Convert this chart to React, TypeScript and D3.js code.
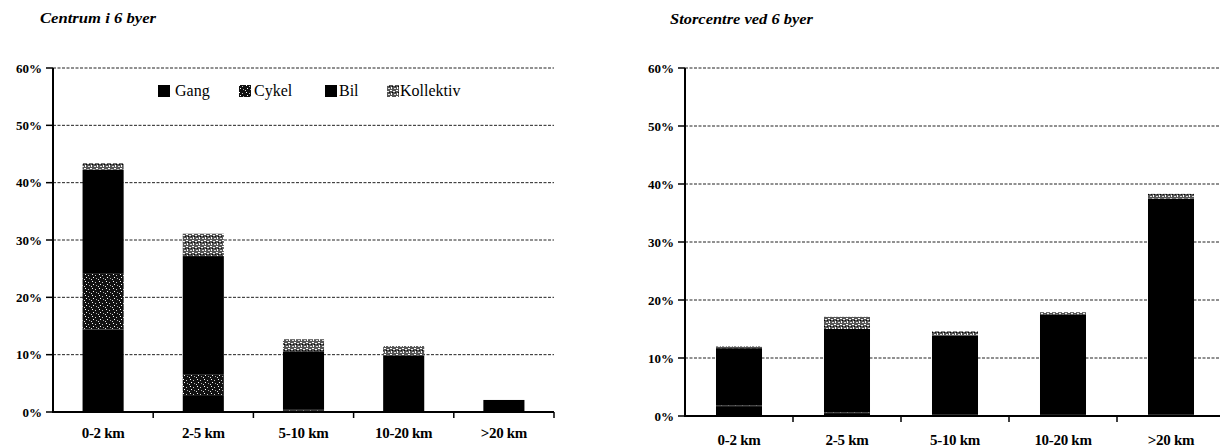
import React from "react";
import * as d3 from "d3";

const categories = ["0-2 km", "2-5 km", "5-10 km", "10-20 km", ">20 km"];
const seriesNames = ["Gang", "Cykel", "Bil", "Kollektiv"];
const yTicks = [0, 10, 20, 30, 40, 50, 60];

// Centrum i 6 byer (percent)
const centrumGang = [14.4, 2.8, 0.3, 0, 0];
const centrumCykel = [9.7, 3.8, 0.2, 0, 0];
const centrumBil = [18.2, 20.6, 10.1, 9.9, 2.1];
const centrumKollektiv = [1.1, 3.9, 2.1, 1.6, 0];

// Storcentre ved 6 byer (percent)
const storGang = [1.7, 0.5, 0.3, 0.2, 0.3];
const storCykel = [0.1, 0.1, 0, 0, 0];
const storBil = [9.9, 14.4, 13.6, 17.3, 37.2];
const storKollektiv = [0.3, 2.1, 0.7, 0.4, 0.8];

const fills: Record<string, string> = {
  Gang: "#000",
  Cykel: "url(#patCykel)",
  Bil: "#000",
  Kollektiv: "url(#patKollektiv)",
};

const FONT = "Liberation Serif, Times New Roman, Times, serif";

type PanelProps = {
  title: string;
  titleX: number;
  titleY: number;
  titleLen: number;
  gang: number[];
  cykel: number[];
  bil: number[];
  kollektiv: number[];
  x0: number;
  x1: number;
  yBottom: number;
  yTop: number;
  padding: number;
  labelY: number;
  legend?: boolean;
};

function Panel(p: PanelProps) {
  const rows = categories.map((c, i) => ({
    cat: c,
    Gang: p.gang[i],
    Cykel: p.cykel[i],
    Bil: p.bil[i],
    Kollektiv: p.kollektiv[i],
  }));
  const stacked = d3.stack<any>().keys(seriesNames)(rows);
  const x = d3
    .scaleBand<string>()
    .domain(categories)
    .range([p.x0, p.x1])
    .paddingInner(p.padding)
    .paddingOuter(p.padding / 2);
  const y = d3.scaleLinear().domain([0, 60]).range([p.yBottom, p.yTop]);
  const step = x.step();
  const legendItems = [
    { name: "Gang", sx: 158, tx: 175 },
    { name: "Cykel", sx: 239, tx: 254 },
    { name: "Bil", sx: 325, tx: 339 },
    { name: "Kollektiv", sx: 387, tx: 400 },
  ];
  return (
    <g>
      <text
        x={p.titleX}
        y={p.titleY}
        style={{ fontFamily: FONT }}
        fontStyle="italic"
        fontWeight="bold"
        fontSize={14}
        textLength={p.titleLen}
        lengthAdjust="spacingAndGlyphs"
      >
        {p.title}
      </text>
      {yTicks.map((t) => (
        <g key={t}>
          {t > 0 && (
            <line
              x1={p.x0}
              x2={p.x1}
              y1={y(t)}
              y2={y(t)}
              stroke="#222"
              strokeWidth={1}
              strokeDasharray="3 1.5"
            />
          )}
          <line x1={p.x0 - 7} x2={p.x0} y1={y(t)} y2={y(t)} stroke="#000" strokeWidth={1.5} />
          <text
            x={p.x0 - 11}
            y={y(t) + 4.5}
            textAnchor="end"
            style={{ fontFamily: FONT }}
            fontWeight="bold"
            fontSize={13}
          >
            {t}%
          </text>
        </g>
      ))}
      {stacked.map((s) => (
        <g key={s.key}>
          {s.map((d, i) => {
            const h = y(d[0]) - y(d[1]);
            if (h <= 0) return null;
            return (
              <rect
                key={i}
                x={x(categories[i])}
                width={x.bandwidth()}
                y={y(d[1])}
                height={h}
                fill={fills[s.key]}
              />
            );
          })}
        </g>
      ))}
      <line x1={p.x0} x2={p.x0} y1={y(60)} y2={y(0) + 1} stroke="#000" strokeWidth={2} />
      <line x1={p.x0} x2={p.x1} y1={y(0)} y2={y(0)} stroke="#000" strokeWidth={2} />
      {categories.map((c, i) => (
        <line
          key={c}
          x1={p.x0 + step * (i + 1)}
          x2={p.x0 + step * (i + 1)}
          y1={y(0)}
          y2={y(0) + 6}
          stroke="#000"
          strokeWidth={1.5}
        />
      ))}
      {categories.map((c) => (
        <text
          key={c}
          x={(x(c) as number) + x.bandwidth() / 2}
          y={p.labelY}
          textAnchor="middle"
          style={{ fontFamily: FONT }}
          fontWeight="bold"
          fontSize={15}
          letterSpacing={-0.3}
        >
          {c}
        </text>
      ))}
      {p.legend &&
        legendItems.map((l) => (
          <g key={l.name}>
            <rect x={l.sx} y={85} width={12} height={12} fill={fills[l.name]} />
            <text x={l.tx} y={96} style={{ fontFamily: FONT }} fontSize={16}>
              {l.name}
            </text>
          </g>
        ))}
    </g>
  );
}

export default function App() {
  return (
    <svg
      width={1220}
      height={448}
      style={{ position: "absolute", left: 0, top: 0, background: "#fff" }}
    >
      <defs>
        <pattern id="patCykel" width="7" height="7" patternUnits="userSpaceOnUse">
          <rect width="7" height="7" fill="#111" />
          <rect x="1" y="1" width="1" height="1" fill="#fff" />
          <rect x="4" y="2" width="1" height="1" fill="#ccc" />
          <rect x="2" y="4" width="1" height="1" fill="#fff" />
          <rect x="5" y="5" width="1" height="1" fill="#aaa" />
          <rect x="0" y="6" width="1" height="1" fill="#ddd" />
        </pattern>
        <pattern id="patKollektiv" width="6" height="6" patternUnits="userSpaceOnUse">
          <rect width="6" height="6" fill="#555" />
          <rect x="0" y="0" width="2" height="1" fill="#fff" />
          <rect x="3" y="1" width="2" height="1" fill="#eee" />
          <rect x="1" y="3" width="1" height="2" fill="#fff" />
          <rect x="4" y="4" width="2" height="1" fill="#ddd" />
          <rect x="2" y="2" width="1" height="1" fill="#000" />
          <rect x="5" y="2" width="1" height="1" fill="#111" />
        </pattern>
      </defs>
      <Panel
        title="Centrum i 6 byer"
        titleX={40}
        titleY={23}
        titleLen={116}
        gang={centrumGang}
        cykel={centrumCykel}
        bil={centrumBil}
        kollektiv={centrumKollektiv}
        x0={53}
        x1={554}
        yBottom={412}
        yTop={68}
        padding={0.59}
        labelY={438}
        legend
      />
      <Panel
        title="Storcentre ved 6 byer"
        titleX={670}
        titleY={24}
        titleLen={143}
        gang={storGang}
        cykel={storCykel}
        bil={storBil}
        kollektiv={storKollektiv}
        x0={685}
        x1={1225}
        yBottom={416}
        yTop={68}
        padding={0.574}
        labelY={445}
      />
    </svg>
  );
}
